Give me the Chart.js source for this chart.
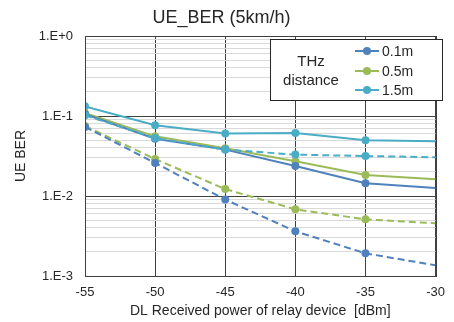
<!DOCTYPE html>
<html><head><meta charset="utf-8">
<script src="https://cdn.jsdelivr.net/npm/chart.js@4/dist/chart.umd.min.js"></script>
<style>html,body{margin:0;padding:0;background:#fff}#wrap{width:454px;height:322px}</style>
</head><body><div id="wrap"><canvas id="c"></canvas></div>
<script>
const xValues = [-55, -50, -45, -40, -35, -30];
const ber01Solid = [0.105, 0.052, 0.038, 0.0237, 0.0144, 0.0126];
const ber05Solid = [0.109, 0.0557, 0.0395, 0.0272, 0.0183, 0.0162];
const ber15Solid = [0.132, 0.0765, 0.0603, 0.0613, 0.0497, 0.0483];
const ber01Dashed = [0.073, 0.0259, 0.00901, 0.00362, 0.00192, 0.00136];
const ber05Dashed = [0.075, 0.029, 0.0122, 0.00682, 0.00511, 0.00456];
const ber15Dashed = [0.102, 0.053, 0.038, 0.0329, 0.0316, 0.0305];
const seriesLabels = ['0.1m', '0.5m', '1.5m'];
const xTickLabels = ['-55', '-50', '-45', '-40', '-35', '-30'];
const yTickLabels = ['1.E-3', '1.E-2', '1.E-1', '1.E+0'];

const colors = ['#4F81BD', '#9BBB59', '#4BACC6'];
const FONT = "'Liberation Sans', Arial, sans-serif";
const TXT = '#262626';

function pts(arr) { return xValues.map((x, i) => ({ x: x, y: arr[i] })); }
const radii = [4, 4, 4, 4, 4, 0];

function ds(label, arr, ci, dashed, legend) {
  return {
    label: label, data: pts(arr), borderColor: colors[ci], backgroundColor: colors[ci],
    borderWidth: 2, borderDash: dashed ? [7, 4] : [], pointRadius: radii, pointHoverRadius: radii,
    pointBorderWidth: 0, tension: 0, inLegend: legend
  };
}

const datasets = [
  ds(seriesLabels[0] + ' dashed', ber01Dashed, 0, true, false),
  ds(seriesLabels[1] + ' dashed', ber05Dashed, 1, true, false),
  ds(seriesLabels[2] + ' dashed', ber15Dashed, 2, true, false),
  ds(seriesLabels[0], ber01Solid, 0, false, true),
  ds(seriesLabels[1], ber05Solid, 1, false, true),
  ds(seriesLabels[2], ber15Solid, 2, false, true)
];

function isDecade(v) { const l = Math.log10(v); return Math.abs(l - Math.round(l)) < 1e-9; }

const customPlugin = {
  id: 'custom',
  afterDraw(chart) {
    const ctx = chart.ctx, a = chart.chartArea;
    ctx.save();
    ctx.strokeStyle = '#404040'; ctx.lineWidth = 1;
    ctx.strokeRect(Math.round(a.left) + 0.5, Math.round(a.top) + 0.5, Math.round(a.right - a.left), Math.round(a.bottom - a.top));
    // legend box
    const bx = 270, by = 39, bw = 172, bh = 61;
    ctx.fillStyle = '#fff'; ctx.fillRect(bx, by, bw, bh);
    ctx.strokeStyle = '#262626'; ctx.lineWidth = 1;
    ctx.strokeRect(bx + 0.5, by + 0.5, bw, bh);
    ctx.fillStyle = TXT; ctx.textAlign = 'center'; ctx.textBaseline = 'middle';
    ctx.font = '15px ' + FONT;
    ctx.fillText('THz', 311, 62);
    ctx.fillText('distance', 311, 81);
    const legendSets = chart.data.datasets.filter(d => d.inLegend);
    const ys = [51, 71, 90];
    ctx.font = '14px ' + FONT; ctx.textAlign = 'left';
    legendSets.forEach((d, i) => {
      ctx.strokeStyle = d.borderColor; ctx.lineWidth = 2; ctx.setLineDash([]);
      ctx.beginPath(); ctx.moveTo(355, ys[i]); ctx.lineTo(379, ys[i]); ctx.stroke();
      ctx.fillStyle = d.backgroundColor;
      ctx.beginPath(); ctx.arc(367, ys[i], 4, 0, Math.PI * 2); ctx.fill();
      ctx.fillStyle = TXT; ctx.fillText(d.label, 382, ys[i] + 1);
    });
    ctx.restore();
  }
};

new Chart(document.getElementById('c'), {
  type: 'line',
  data: { datasets: datasets },
  plugins: [customPlugin],
  options: {
    responsive: true, maintainAspectRatio: false, animation: false,
    layout: { padding: { top: 0, right: 11, left: 0, bottom: 0 } },
    plugins: {
      legend: { display: false }, tooltip: { enabled: false },
      title: { display: true, text: 'UE_BER (5km/h)', color: TXT, font: { family: FONT, size: 18, weight: 'normal', lineHeight: 1.2 }, padding: { top: 7.5, bottom: 6.9 } }
    },
    scales: {
      x: {
        type: 'linear', min: -55, max: -30,
        afterBuildTicks: s => { s.ticks = xValues.map(v => ({ value: v })); },
        afterFit: s => { s.height = 46; },
        ticks: { autoSkip: false, padding: 9, color: TXT, font: { family: FONT, size: 13 },
          callback: (v, i) => xTickLabels[i] },
        grid: { color: '#404040', lineWidth: 1, drawTicks: false },
        border: { display: false },
        title: { display: true, text: 'DL Received power of relay device  [dBm]', color: TXT, font: { family: FONT, size: 14 }, padding: { top: 0, bottom: 2 } }
      },
      y: {
        type: 'logarithmic', min: 0.001, max: 1,
        afterBuildTicks: s => {
          const t = [];
          for (let e = -3; e < 0; e++) for (let m = 1; m < 10; m++) t.push({ value: m * Math.pow(10, e) });
          t.push({ value: 1 });
          s.ticks = t;
        },
        afterFit: s => { s.width = 85; },
        ticks: { autoSkip: false, padding: 12, color: TXT, font: { family: FONT, size: 13 },
          callback: v => isDecade(v) ? yTickLabels[Math.round(Math.log10(v)) + 3] : '' },
        grid: { drawTicks: false, lineWidth: 1,
          color: c => (c.tick && isDecade(c.tick.value)) ? '#404040' : '#d9d9d9' },
        border: { display: false },
        title: { display: true, text: 'UE BER', color: TXT, font: { family: FONT, size: 14 }, padding: { top: 13, bottom: 0 } }
      }
    }
  }
});
</script></body></html>
